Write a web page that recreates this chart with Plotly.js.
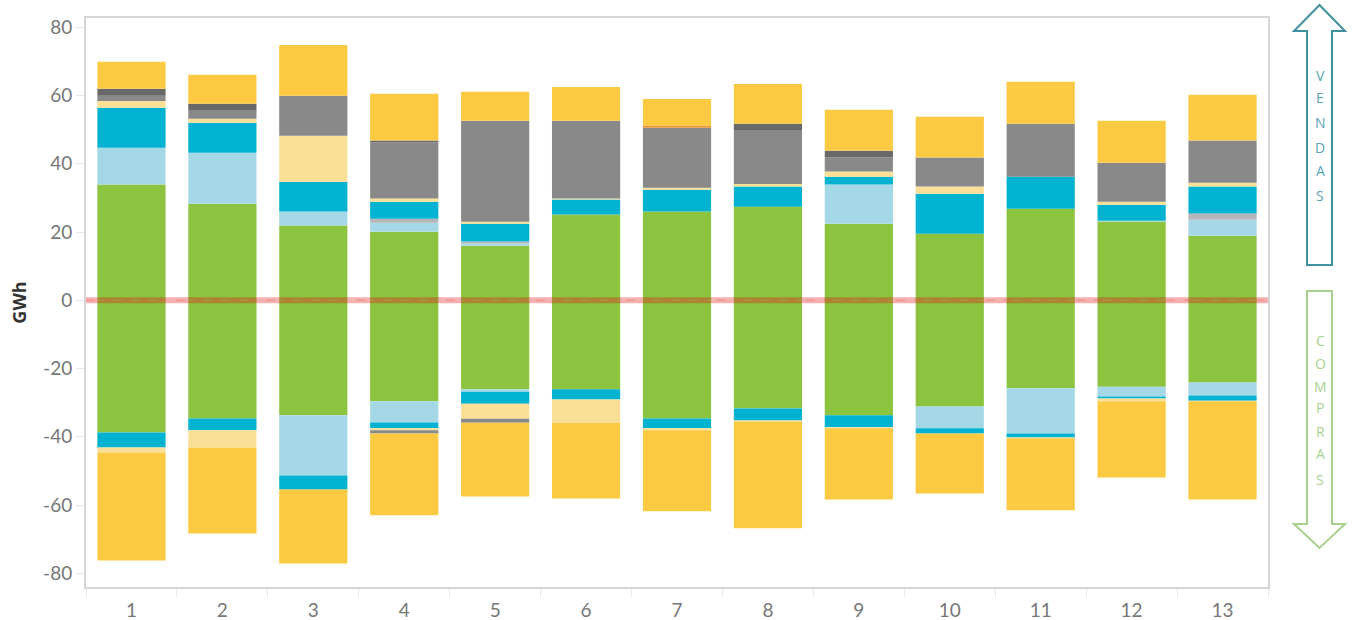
<!DOCTYPE html>
<html>
<head>
<meta charset="utf-8">
<script src="https://cdn.plot.ly/plotly-3.0.1.min.js"></script>
<style>html,body{margin:0;padding:0;background:#fff;}#chart{width:1356px;height:620px;}</style>
</head>
<body>
<div id="chart"></div>
<script>
const categories = ['1','2','3','4','5','6','7','8','9','10','11','12','13'];
const yTickVals = [-80, -60, -40, -20, 0, 20, 40, 60, 80];
const yTickText = ['-80', '-60', '-40', '-20', '0', '20', '40', '60', '80'];

// VENDAS (positive stack, bottom to top)
const green_v  = [33.9, 28.3, 21.9, 20.1, 16.0, 25.1, 26.0, 27.4, 22.4, 19.5, 26.8, 23.1, 18.9];
const lblue_v  = [10.8, 14.9, 4.1, 2.6, 0.6, 0, 0, 0, 11.5, 0, 0, 0.2, 4.7];
const lgray_v  = [0, 0, 0, 1.2, 0.6, 0, 0, 0, 0, 0, 0, 0, 1.8];
const cyan_v   = [11.7, 8.8, 8.7, 5.0, 5.2, 4.4, 6.4, 5.9, 2.3, 11.7, 9.4, 4.7, 7.9];
const beige_v  = [2.0, 1.2, 13.5, 0.9, 0.6, 0.3, 0.6, 0.8, 1.5, 2.1, 0, 0.9, 1.1];
const gray_v   = [1.5, 2.3, 11.7, 16.4, 29.6, 22.8, 17.6, 15.6, 4.1, 8.5, 15.5, 11.4, 12.4];
const dgray_v  = [2.1, 2.1, 0, 0.6, 0, 0, 0, 2.0, 2.0, 0, 0, 0, 0];
const orange_v = [0, 0, 0, 0, 0, 0, 0.6, 0, 0, 0, 0, 0, 0];
const yellow_v = [7.9, 8.5, 14.9, 13.7, 8.5, 9.9, 7.8, 11.7, 12.0, 12.0, 12.3, 12.3, 13.4];

// COMPRAS (negative stack, top to bottom)
const green_c  = [-38.7, -34.6, -33.7, -29.6, -26.1, -26.1, -34.6, -31.7, -33.7, -31.1, -25.8, -25.3, -24.1];
const lblue_c  = [0, 0, -17.6, -6.2, -0.7, 0, 0, 0, 0, -6.4, -13.2, -2.9, -3.8];
const cyan_c   = [-4.4, -3.5, -4.1, -1.7, -3.5, -3.0, -2.9, -3.5, -3.5, -1.5, -1.2, -0.6, -1.5];
const beige_c  = [-1.5, -5.0, 0, -0.6, -4.4, -6.8, -0.6, -0.3, -0.3, 0, -0.2, -0.8, -0.2];
const gray_c   = [0, 0, 0, -0.9, -1.2, 0, 0, 0, 0, 0, 0, 0, 0];
const yellow_c = [-31.6, -25.2, -21.7, -24.0, -21.6, -22.2, -23.7, -31.3, -20.9, -17.6, -21.1, -22.3, -28.8];

const COL = {
  green: '#8cc43f', lblue: '#a5d8e6', lgray: '#b5b5ba', cyan: '#02b2d1',
  beige: '#fae097', gray: '#898989', dgray: '#696969', orange: '#f7941d', yellow: '#fcc942'
};

const series = [
  ['green', green_v], ['lblue', lblue_v], ['lgray', lgray_v], ['cyan', cyan_v],
  ['beige', beige_v], ['gray', gray_v], ['dgray', dgray_v], ['orange', orange_v], ['yellow', yellow_v],
  ['green', green_c], ['lblue', lblue_c], ['cyan', cyan_c], ['beige', beige_c],
  ['gray', gray_c], ['yellow', yellow_c]
];

const traces = series.map(([k, vals]) => ({
  type: 'bar', x: categories, y: vals, name: k,
  marker: {color: COL[k], line: {width: 0}},
  hoverinfo: 'y'
}));

// plot area in pixels: x 86..1268, y 18..587
const L = 86, R = 1268, T = 18, B = 587;
const px = v => (v - L) / (R - L);
const py = v => (B - v) / (B - T);

function arrowUp(x0, x1, hx0, hx1, tip, base, bottom) {
  const cx = (x0 + x1) / 2;
  return 'M' + px(cx) + ',' + py(tip) + ' L' + px(hx1) + ',' + py(base) + ' L' + px(x1) + ',' + py(base) +
    ' L' + px(x1) + ',' + py(bottom) + ' L' + px(x0) + ',' + py(bottom) + ' L' + px(x0) + ',' + py(base) +
    ' L' + px(hx0) + ',' + py(base) + ' Z';
}
function arrowDown(x0, x1, hx0, hx1, top, base, tip) {
  const cx = (x0 + x1) / 2;
  return 'M' + px(x0) + ',' + py(top) + ' L' + px(x1) + ',' + py(top) + ' L' + px(x1) + ',' + py(base) +
    ' L' + px(hx1) + ',' + py(base) + ' L' + px(cx) + ',' + py(tip) + ' L' + px(hx0) + ',' + py(base) +
    ' L' + px(x0) + ',' + py(base) + ' Z';
}

const shapes = [
  {type: 'line', xref: 'paper', yref: 'y', x0: 0, x1: 1, y0: 0, y1: 0, layer: 'above',
   line: {color: 'rgba(225,15,15,0.33)', width: 6}},
  {type: 'line', xref: 'paper', yref: 'y', x0: 0, x1: 1, y0: 0, y1: 0, layer: 'above',
   line: {color: 'rgba(225,60,60,0.35)', width: 1, dash: 'dash'}},
  {type: 'path', xref: 'paper', yref: 'paper', layer: 'above',
   path: arrowUp(1307, 1332, 1294, 1345, 5, 31, 265),
   line: {color: '#3f919f', width: 2}, fillcolor: 'rgba(255,255,255,0)'},
  {type: 'path', xref: 'paper', yref: 'paper', layer: 'above',
   path: arrowDown(1307, 1332, 1294, 1345, 291, 524, 548),
   line: {color: '#a9d18e', width: 2}, fillcolor: 'rgba(255,255,255,0)'}
];

const annotations = [];
const vend = ['V','E','N','D','A','S'];
const vendY = [75, 98, 122, 147, 171, 195];
vend.forEach((c, i) => annotations.push({
  xref: 'paper', yref: 'paper', x: px(1320), y: py(vendY[i]), text: c, showarrow: false,
  font: {family: 'Open Sans, sans-serif', size: 14, color: '#5aa3b3'}, xanchor: 'center', yanchor: 'middle'
}));
const comp = ['C','O','M','P','R','A','S'];
const compY = [340, 363, 386, 408, 431, 453, 479];
comp.forEach((c, i) => annotations.push({
  xref: 'paper', yref: 'paper', x: px(1320), y: py(compY[i]), text: c, showarrow: false,
  font: {family: 'Open Sans, sans-serif', size: 14, color: '#a9d18e'}, xanchor: 'center', yanchor: 'middle'
}));

const layout = {
  width: 1356, height: 620,
  margin: {l: L, r: 1356 - R, t: T, b: 620 - B, pad: 0},
  paper_bgcolor: '#fff', plot_bgcolor: '#fff',
  barmode: 'relative', bargap: 0.25,
  showlegend: false,
  font: {family: 'Lato, sans-serif', color: '#777'},
  xaxis: {
    type: 'category', showgrid: false, zeroline: false,
    showline: true, linecolor: '#d6d6d6', linewidth: 2, mirror: true,
    ticks: 'outside', tickson: 'boundaries', ticklen: 8, tickcolor: '#e6e6e6',
    ticklabelstandoff: 5,
    tickfont: {size: 19, color: '#777'}
  },
  yaxis: {
    range: [-84, 82.7], showgrid: false, zeroline: false,
    showline: true, linecolor: '#d6d6d6', linewidth: 2, mirror: true,
    ticks: 'outside', ticklen: 8, tickcolor: '#e6e6e6',
    tickmode: 'array', tickvals: yTickVals, ticktext: yTickText,
    tickfont: {size: 19, color: '#777'},
    title: {text: 'GWh', font: {size: 18, color: '#333', family: 'Open Sans, sans-serif', weight: 'bold'}, standoff: 12}
  },
  shapes: shapes,
  annotations: annotations
};

Plotly.newPlot('chart', traces, layout, {displayModeBar: false, staticPlot: true});
</script>
</body>
</html>
